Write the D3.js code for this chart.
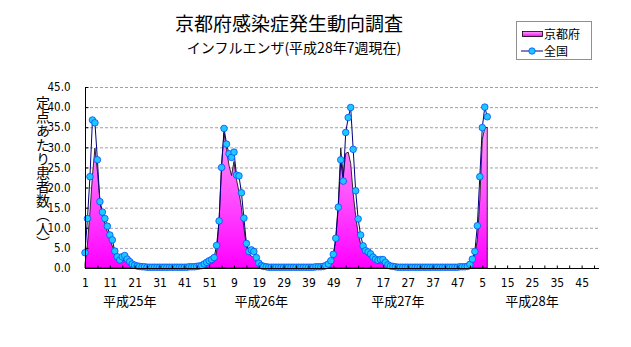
<!DOCTYPE html>
<html><head><meta charset="utf-8">
<script src="https://cdn.jsdelivr.net/npm/d3@7"></script>
<style>
body{margin:0;background:#fff;}
svg{display:block;}
</style></head><body>
<svg id="c" width="631" height="347"></svg>
<script>
const titleText = "京都府感染症発生動向調査";
const subtitleText = "インフルエンザ(平成28年7週現在)";
const yAxisTitle = "定点あたり患者数（人）";
const years = ["平成25年", "平成26年", "平成27年", "平成28年"];
const weeksPerYear = 52;
const yTicks = [0, 5, 10, 15, 20, 25, 30, 35, 40, 45];
const seriesNames = ["京都府", "全国"];

// 全国 (national) per-sentinel values, H25 week1 .. H28 week7
const nationalH25 = [3.8, 12.3, 22.7, 36.8, 36.1, 26.9, 16.5, 13.9, 12.3, 10.4, 8.2, 7.0, 4.2, 2.8, 2.0, 2.8, 3.1, 2.2, 1.6, 1.0, 0.7,
  0.5, 0.4, 0.3, 0.3, 0.2, 0.2, 0.2, 0.2, 0.2, 0.2, 0.2, 0.2, 0.2, 0.2, 0.2, 0.2, 0.2, 0.2, 0.2, 0.2, 0.2,
  0.3, 0.3, 0.3, 0.4, 0.5, 0.6, 1.0, 1.4, 1.8, 2.1];
const nationalH26 = [2.6, 5.6, 11.7, 25.0, 34.7, 30.8, 28.4, 27.5, 28.8, 23.1, 22.9, 18.7, 12.4, 6.1, 4.1, 4.5, 4.1, 2.6, 1.2, 0.6, 0.4, 0.3,
  0.2, 0.2, 0.2, 0.2, 0.2, 0.2, 0.2, 0.2, 0.2, 0.2, 0.2, 0.2, 0.2, 0.2, 0.2, 0.2, 0.2, 0.2, 0.2,
  0.3, 0.3, 0.3, 0.4, 0.6, 1.0, 1.8, 3.4, 7.4, 15.1, 26.9];
const nationalH27 = [21.6, 33.7, 37.4, 39.9, 29.5, 19.2, 12.2, 8.2, 5.5, 4.3, 4.0, 3.5, 2.7, 2.2, 1.9, 2.1, 2.1, 1.4, 0.8, 0.5, 0.4, 0.3,
  0.2, 0.2, 0.2, 0.2, 0.2, 0.2, 0.2, 0.2, 0.2, 0.2, 0.2, 0.2, 0.2, 0.2, 0.2, 0.2, 0.2, 0.2, 0.2, 0.2, 0.2, 0.2, 0.2, 0.2, 0.2,
  0.3, 0.3, 0.3, 0.4, 0.9];
const nationalH28 = [2.2, 4.1, 10.5, 22.7, 34.9, 40.0, 37.6];

// 京都府 (Kyoto) per-sentinel values
const kyotoH25 = [1.0, 6.0, 14.0, 23.0, 29.8, 24.0, 17.0, 13.0, 11.0, 9.0, 7.0, 5.5, 4.0, 2.8, 2.2, 2.0, 1.8, 1.5, 1.2, 0.8, 0.5, 0.3,
  0.1, 0.1, 0.1, 0.1, 0.1, 0.1, 0.1, 0.1, 0.1, 0.1, 0.1, 0.1, 0.1, 0.1, 0.1, 0.1, 0.1, 0.1, 0.1, 0.1, 0.1, 0.1, 0.1,
  0.2, 0.3, 0.4, 0.5, 0.7, 0.9, 1.2];
const kyotoH26 = [1.5, 4.0, 12.0, 26.0, 33.5, 29.5, 25.5, 23.0, 26.5, 22.0, 19.0, 15.0, 10.0, 5.5, 3.5, 3.0, 2.5, 1.8, 1.0, 0.5, 0.3,
  0.1, 0.1, 0.1, 0.1, 0.1, 0.1, 0.1, 0.1, 0.1, 0.1, 0.1, 0.1, 0.1, 0.1, 0.1, 0.1, 0.1, 0.1, 0.1, 0.1, 0.1, 0.1,
  0.2, 0.3, 0.5, 0.8, 1.5, 2.5, 7.5, 16.0, 29.8];
const kyotoH27 = [23.0, 28.5, 28.8, 26.0, 18.5, 13.0, 8.5, 6.0, 4.5, 3.5, 3.0, 2.5, 2.0, 1.5, 1.5, 1.8, 1.2, 0.8, 0.5, 0.3,
  0.1, 0.1, 0.1, 0.1, 0.1, 0.1, 0.1, 0.1, 0.1, 0.1, 0.1, 0.1, 0.1, 0.1, 0.1, 0.1, 0.1, 0.1, 0.1, 0.1, 0.1, 0.1, 0.1, 0.1, 0.1, 0.1, 0.1,
  0.2, 0.3, 0.5, 0.8, 1.2];
const kyotoH28 = [2.0, 3.5, 7.0, 17.0, 32.0, 34.8, 35.0];

const national = [...nationalH25, ...nationalH26, ...nationalH27, ...nationalH28];
const kyoto = [...kyotoH25, ...kyotoH26, ...kyotoH27, ...kyotoH28];

// categories: week numbers within each year
const categories = [];
years.forEach((yr, yi) => { for (let w = 1; w <= weeksPerYear; w++) categories.push({year: yr, week: w}); });
const yearLabelIndex = [18, 71, 126, 180];

const svg = d3.select("#c");
const jp = "'Noto Sans CJK JP', 'Noto Sans', sans-serif";
const num = "'Liberation Sans Narrow', 'DejaVu Sans Condensed', 'Liberation Sans', sans-serif";

const x = d3.scaleLinear().domain([0, categories.length - 1]).range([85, 599]);
const y = d3.scaleLinear().domain([0, 45]).range([268, 87]);

const defs = svg.append("defs");
const grad = defs.append("linearGradient").attr("id", "pk")
  .attr("gradientUnits", "userSpaceOnUse").attr("x1", 0).attr("x2", 0)
  .attr("y1", y(38)).attr("y2", y(0));
grad.append("stop").attr("offset", "0%").attr("stop-color", "#ffa6ff");
grad.append("stop").attr("offset", "55%").attr("stop-color", "#ff4cff");
grad.append("stop").attr("offset", "100%").attr("stop-color", "#ff00ff");
const lg = defs.append("linearGradient").attr("id", "pkl").attr("x1", 0).attr("x2", 0).attr("y1", 0).attr("y2", 1);
lg.append("stop").attr("offset", "0%").attr("stop-color", "#ffa6ff");
lg.append("stop").attr("offset", "100%").attr("stop-color", "#ff00ff");

// titles
svg.append("text").attr("x", 289).attr("y", 31).attr("text-anchor", "middle")
  .style("font-family", jp).style("font-size", "19px").attr("fill", "#000").text(titleText);
svg.append("text").attr("x", 294).attr("y", 53).attr("text-anchor", "middle")
  .style("font-family", jp).style("font-size", "14px").attr("fill", "#000").text(subtitleText);

// gridlines
svg.append("g").selectAll("line").data(yTicks.filter(d => d > 0)).join("line")
  .attr("x1", x(0)).attr("x2", 600).attr("y1", d => y(d) + 0.5).attr("y2", d => y(d) + 0.5)
  .attr("stroke", "#a0a0a0").attr("stroke-width", 1).attr("stroke-dasharray", "3,2");

// Kyoto area
const area = d3.area().x((d, i) => x(i)).y0(y(0)).y1(d => y(d));
svg.append("path").datum(kyoto).attr("d", area)
  .attr("fill", "url(#pk)").attr("stroke", "#000").attr("stroke-width", 0.8);

// national line + markers
const line = d3.line().x((d, i) => x(i)).y(d => y(d));
svg.append("path").datum(national).attr("d", line)
  .attr("fill", "none").attr("stroke", "#000080").attr("stroke-width", 1);
svg.append("g").selectAll("circle").data(national).join("circle")
  .attr("cx", (d, i) => x(i)).attr("cy", d => y(d)).attr("r", 3.3)
  .attr("fill", "#1ec8ff").attr("stroke", "#0050ff").attr("stroke-width", 0.8);

// axes
const xAxis = d3.axisBottom(x).tickValues(d3.range(0, categories.length, 5))
  .tickSize(-3).tickPadding(10)
  .tickFormat(i => i % 10 === 0 ? categories[i].week : "");
const gx = svg.append("g").attr("transform", `translate(0,${y(0) + 0.5})`).call(xAxis);
gx.select(".domain").attr("d", `M${x(0)},0H${x(categories.length - 1)}`).attr("stroke", "#000");
gx.selectAll("text").style("font-family", num).style("font-size", "12px").attr("fill", "#000");
gx.selectAll("line").attr("stroke", "#000");

const yAxis = d3.axisLeft(y).tickValues(yTicks).tickSize(-3).tickPadding(15).tickFormat(d3.format(".1f"));
const gy = svg.append("g").attr("transform", `translate(${x(0) + 0.5},0)`).call(yAxis);
gy.select(".domain").attr("d", `M0,${y(45)}V${y(0)}`).attr("stroke", "#000");
gy.selectAll("text").style("font-family", num).style("font-size", "11.5px").attr("fill", "#000");
gy.selectAll("line").attr("stroke", "#000");

// y axis title (vertical)
svg.append("text").attr("x", 43).attr("y", 96)
  .style("writing-mode", "vertical-rl").style("font-family", jp).style("font-size", "14px")
  .attr("fill", "#000").text(yAxisTitle);

// year labels
svg.append("g").selectAll("text").data(years).join("text")
  .attr("x", (d, i) => x(yearLabelIndex[i])).attr("y", 306).attr("text-anchor", "middle")
  .style("font-family", jp).style("font-size", "13px").attr("fill", "#000").text(d => d);

// legend
const lgd = svg.append("g").attr("transform", "translate(516,21)");
lgd.append("rect").attr("x", 0.5).attr("y", 0.5).attr("width", 75).attr("height", 38)
  .attr("fill", "#fff").attr("stroke", "#909090");
lgd.append("rect").attr("x", 6.5).attr("y", 10.5).attr("width", 20).attr("height", 5)
  .attr("fill", "url(#pkl)").attr("stroke", "#000").attr("stroke-width", 0.8);
lgd.append("text").attr("x", 28).attr("y", 17.5).style("font-family", jp).style("font-size", "12px").text(seriesNames[0]);
lgd.append("line").attr("x1", 5).attr("x2", 27).attr("y1", 30).attr("y2", 30).attr("stroke", "#000080");
lgd.append("circle").attr("cx", 16).attr("cy", 30).attr("r", 3.2).attr("fill", "#1ec8ff").attr("stroke", "#0050ff").attr("stroke-width", 0.8);
lgd.append("text").attr("x", 28).attr("y", 34.5).style("font-family", jp).style("font-size", "12px").text(seriesNames[1]);
</script>
</body></html>
